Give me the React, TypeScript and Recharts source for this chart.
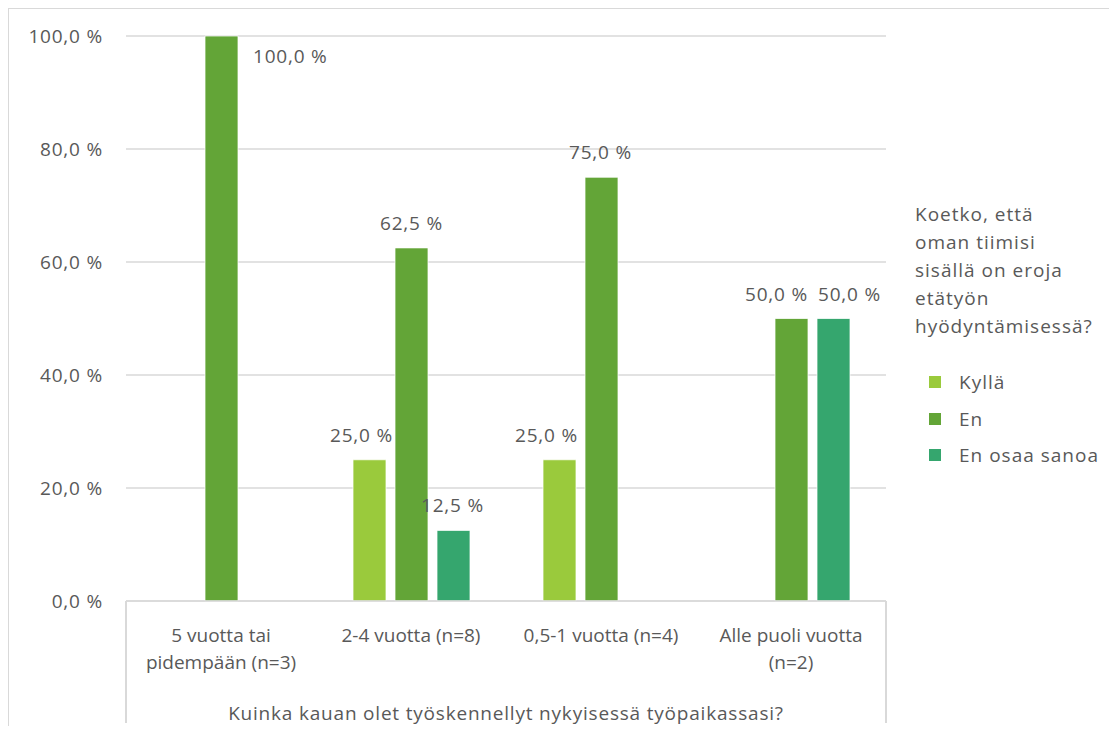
import React from 'react';
import { BarChart, Bar, XAxis, YAxis, CartesianGrid, LabelList } from 'recharts';

const categories = [
  '5 vuotta tai\npidempään (n=3)',
  '2-4 vuotta (n=8)',
  '0,5-1 vuotta (n=4)',
  'Alle puoli vuotta\n(n=2)',
];
const kylla: (number | null)[] = [null, 25, 25, null];
const en: (number | null)[] = [100, 62.5, 75, 50];
const enOsaa: (number | null)[] = [null, 12.5, null, 50];
const yTicks = [0, 20, 40, 60, 80, 100];

const legendTitle = ['Koetko, että', 'oman tiimisi', 'sisällä on eroja', 'etätyön', 'hyödyntämisessä?'];
const xTitle = 'Kuinka kauan olet työskennellyt nykyisessä työpaikassasi?';

const TEXT = '#595959';
const GRID = '#d9d9d9';
const FONT = '"Open Sans", Lato, sans-serif';
const FS = 19;

const W = 1117;
const H = 734;
const MARGIN = { top: 36, right: 231, bottom: 0, left: 8 };
const Y_AXIS_W = 118;
const PLOT_LEFT = MARGIN.left + Y_AXIS_W;
const BAND = (W - MARGIN.right - PLOT_LEFT) / categories.length;

const series = [
  { key: 'kylla', name: 'Kyllä', color: '#9aca3c' },
  { key: 'en', name: 'En', color: '#63a537' },
  { key: 'enOsaa', name: 'En osaa sanoa', color: '#35a66e' },
];

// small horizontal nudges per category so crowded data labels don't collide
const labelNudge: Record<string, number[]> = {
  kylla: [0, -8, -13, 0],
  en: [0, 0, -1, -15],
  enOsaa: [0, -1, 0, 16],
};

const data = categories.map((name, i) => ({
  name,
  kylla: kylla[i],
  en: en[i],
  enOsaa: enOsaa[i],
}));

const fmt = (v: number) => `${v.toFixed(1).replace('.', ',')} %`;

const makeLabel = (key: string) => (props: any) => {
  const { x, y, width, value } = props;
  if (value == null) return null;
  const v = Number(value);
  if (v >= 100) {
    return (
      <text x={x + width + 15} y={y + 27} fill={TEXT} fontSize={FS} letterSpacing={0.8} textAnchor="start">
        {fmt(v)}
      </text>
    );
  }
  // LabelList skips empty bars, so find the category from the bar position
  const cat = Math.floor((x + width / 2 - PLOT_LEFT) / BAND);
  const dx = labelNudge[key]?.[cat] ?? 0;
  return (
    <text x={x + width / 2 + dx} y={y - 18} fill={TEXT} fontSize={FS} letterSpacing={0.8} textAnchor="middle">
      {fmt(v)}
    </text>
  );
};

const CategoryTick = (props: any) => {
  const { x, y, payload } = props;
  const lines = String(payload.value).split('\n');
  return (
    <g>
      {lines.map((l, i) => (
        <text key={i} x={x} y={y + 41 + i * 27} fill={TEXT} fontSize={FS} textAnchor="middle">
          {l}
        </text>
      ))}
    </g>
  );
};

const ValueTick = (props: any) => {
  const { x, y, payload } = props;
  return (
    <text x={x - 23} y={y + 7} fill={TEXT} fontSize={FS} letterSpacing={0.8} textAnchor="end">
      {fmt(payload.value)}
    </text>
  );
};

const SeriesLegend = () => (
  <div style={{ position: 'absolute', left: 915, top: 200, fontFamily: FONT, color: TEXT, fontSize: FS, letterSpacing: 1 }}>
    <div style={{ lineHeight: '28px', marginBottom: 24 }}>
      {legendTitle.map((l) => (
        <div key={l}>{l}</div>
      ))}
    </div>
    {series.map((s) => (
      <div key={s.key} style={{ display: 'flex', alignItems: 'center', height: 36.5 }}>
        <span style={{ width: 12, height: 12, background: s.color, marginLeft: 14, marginRight: 18 }} />
        <span>{s.name}</span>
      </div>
    ))}
  </div>
);

export default function App() {
  return (
    <div style={{ position: 'relative', margin: -8, width: W, height: H, overflow: 'hidden', background: '#fff', fontFamily: FONT }}>
      <div style={{ position: 'absolute', left: 0, top: 0 }}>
        <BarChart width={W} height={H} data={data} margin={MARGIN} barSize={33} barGap={9}>
          <CartesianGrid horizontal vertical={false} stroke={GRID} strokeWidth={1.5} />
          <XAxis
            dataKey="name"
            height={133}
            tickLine={false}
            tickSize={0}
            tickMargin={0}
            axisLine={{ stroke: GRID, strokeWidth: 1.5 }}
            tick={<CategoryTick />}
            interval={0}
            label={{ value: xTitle, position: 'insideBottom', offset: 14, fill: TEXT, fontSize: FS, letterSpacing: 0.8 }}
          />
          <YAxis
            width={Y_AXIS_W}
            domain={[0, 100]}
            ticks={yTicks}
            axisLine={false}
            tickLine={false}
            tickSize={0}
            tickMargin={0}
            tick={<ValueTick />}
          />
          {series.map((s) => (
            <Bar
              key={s.key}
              dataKey={s.key}
              name={s.name}
              fill={s.color}
              stroke="#ffffff"
              strokeWidth={0.75}
              isAnimationActive={false}
            >
              <LabelList dataKey={s.key} content={makeLabel(s.key)} />
            </Bar>
          ))}
        </BarChart>
      </div>
      {/* outer chart frame, clipped at right and bottom */}
      <div style={{ position: 'absolute', zIndex: 2, left: 7, top: 7, width: W, height: 2, background: GRID }} />
      <div style={{ position: 'absolute', zIndex: 2, left: 7, top: 7, width: 2, height: H, background: GRID }} />
      {/* category axis box sides */}
      <div style={{ position: 'absolute', zIndex: 2, left: 125, top: 601, width: 1.5, height: 122, background: GRID }} />
      <div style={{ position: 'absolute', zIndex: 2, left: 885, top: 601, width: 1.5, height: 122, background: GRID }} />
      <SeriesLegend />
    </div>
  );
}
